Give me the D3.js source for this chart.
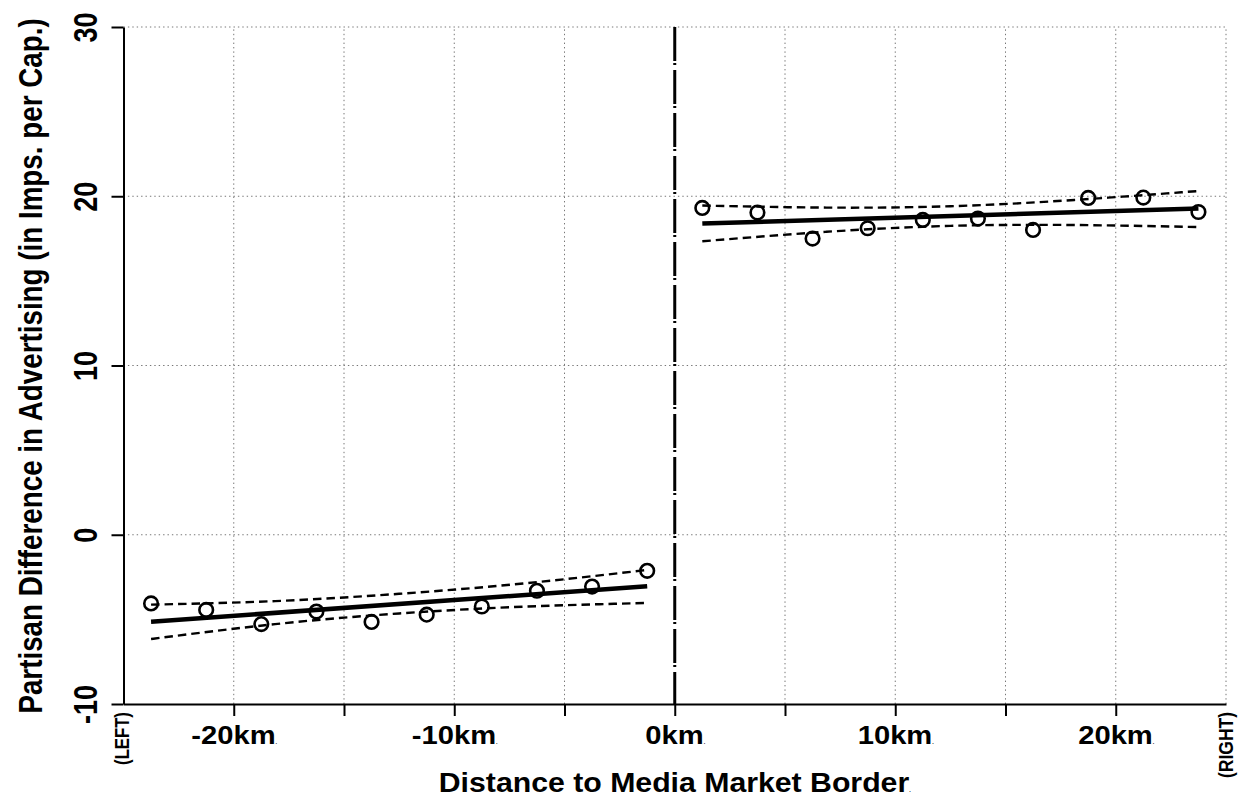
<!DOCTYPE html>
<html>
<head>
<meta charset="utf-8">
<script src="https://cdn.jsdelivr.net/npm/d3@7"></script>
<style>
  body { margin: 0; background: #fff; }
  text { font-family: "Liberation Sans", Arial, sans-serif; font-weight: bold; fill: #000; }
</style>
</head>
<body>
<div id="chart"></div>
<script>
// bin centres (km from border) and bin means
const leftX  = [-23.75, -21.25, -18.75, -16.25, -13.75, -11.25, -8.75, -6.25, -3.75, -1.25];
const leftY  = [-4.06, -4.44, -5.28, -4.54, -5.15, -4.72, -4.24, -3.31, -3.06, -2.13];
const rightX = [1.25, 3.75, 6.25, 8.75, 11.25, 13.75, 16.25, 18.75, 21.25, 23.75];
const rightY = [19.31, 19.04, 17.50, 18.11, 18.60, 18.68, 18.01, 19.90, 19.92, 19.07];

// linear fits (end points) and confidence bands
const fitLeftX  = [-23.75, -1.25];
const fitLeftY  = [-5.14, -3.04];
const fitRightX = [1.25, 23.75];
const fitRightY = [18.39, 19.28];

const ciLeftX   = [-23.75, -18.125, -12.5, -6.875, -1.25];
const ciLeftHi  = [-4.13, -3.92, -3.49, -2.88, -2.08];
const ciLeftLo  = [-6.16, -5.28, -4.65, -4.25, -4.03];
const ciRightX  = [1.25, 6.875, 12.5, 18.125, 23.75];
const ciRightHi = [19.45, 19.33, 19.41, 19.78, 20.31];
const ciRightLo = [17.34, 17.90, 18.25, 18.30, 18.18];

const xTicks = [-20, -15, -10, -5, 0, 5, 10, 15, 20];
const xGrid  = [-20, -15, -10, -5, 5, 10, 15, 20, 25];
const yTicks = [-10, 0, 10, 20, 30];
const yGrid  = [0, 10, 20, 30];

const W = 1238, H = 797;
const margin = {top: 27, left: 123.5, right: 12, bottom: 93};
const sx = 1.1;   // horizontal text stretch
const sr = 1.2;   // stretch for rotated text

const svg = d3.select("#chart").append("svg")
  .attr("width", W).attr("height", H);

const x = d3.scaleLinear().domain([-25, 25]).range([margin.left, W - margin.right]);
const y = d3.scaleLinear().domain([-10, 30]).range([H - margin.bottom, margin.top]);

// grid
svg.append("g").selectAll("line").data(yGrid).join("line")
  .attr("x1", x(-25)).attr("x2", x(25))
  .attr("y1", d => y(d)).attr("y2", d => y(d))
  .attr("stroke", "#777").attr("stroke-width", 1).attr("stroke-dasharray", "1.4,3");
svg.append("g").selectAll("line").data(xGrid).join("line")
  .attr("x1", d => x(d)).attr("x2", d => x(d))
  .attr("y1", y(-10)).attr("y2", y(30))
  .attr("stroke", "#777").attr("stroke-width", 1).attr("stroke-dasharray", "1.4,3");

// border line
svg.append("line")
  .attr("x1", x(0)).attr("x2", x(0))
  .attr("y1", y(30)).attr("y2", y(-10))
  .attr("stroke", "#000").attr("stroke-width", 3)
  .attr("stroke-dasharray", "34,2,2,5");

// x axis
const xAxis = svg.append("g")
  .attr("transform", `translate(0,${y(-10)})`)
  .call(d3.axisBottom(x).tickValues(xTicks).tickSize(12).tickSizeOuter(0)
    .tickFormat(d => d % 10 === 0 ? d + "km" : ""));
xAxis.select(".domain").attr("stroke-width", 2);
xAxis.selectAll(".tick line").attr("stroke-width", 2);
xAxis.selectAll(".tick text")
  .attr("y", null).attr("dy", null)
  .attr("transform", `translate(0,40) scale(${sx},1)`)
  .style("font-size", "26.5px")
  .each(function() {
    if (this.textContent) d3.select(this).append("tspan").style("font-size", "5px").text(".");
  });

// y axis
const yAxis = svg.append("g")
  .attr("transform", `translate(${x(-25)},0)`)
  .call(d3.axisLeft(y).tickValues(yTicks).tickSize(12).tickSizeOuter(0)
    .tickFormat(d => String(d)));
yAxis.select(".domain").attr("stroke-width", 2);
yAxis.selectAll(".tick line").attr("stroke-width", 2);
yAxis.selectAll(".tick text")
  .attr("x", null).attr("dy", null)
  .attr("text-anchor", "middle")
  .attr("transform", `translate(-26.5,0) scale(${sr},1) rotate(-90)`)
  .style("font-size", "27px");

// confidence bands
const band = d3.line().x(d => x(d[0])).y(d => y(d[1])).curve(d3.curveNatural);
[[ciLeftX, ciLeftHi], [ciLeftX, ciLeftLo], [ciRightX, ciRightHi], [ciRightX, ciRightLo]]
  .forEach(([xs, ys]) => {
    svg.append("path")
      .attr("d", band(xs.map((v, i) => [v, ys[i]])))
      .attr("fill", "none").attr("stroke", "#000")
      .attr("stroke-width", 2.4).attr("stroke-dasharray", "8.5,5");
  });

// fitted lines
[[fitLeftX, fitLeftY], [fitRightX, fitRightY]].forEach(([xs, ys]) => {
  svg.append("line")
    .attr("x1", x(xs[0])).attr("y1", y(ys[0]))
    .attr("x2", x(xs[1])).attr("y2", y(ys[1]))
    .attr("stroke", "#000").attr("stroke-width", 4.5);
});

// bin means
const pts = leftX.map((v, i) => [v, leftY[i]]).concat(rightX.map((v, i) => [v, rightY[i]]));
svg.append("g").selectAll("circle").data(pts).join("circle")
  .attr("cx", d => x(d[0])).attr("cy", d => y(d[1]))
  .attr("r", 6.8)
  .attr("fill", "none").attr("stroke", "#000").attr("stroke-width", 2.6);

// labels
function label(txt, px, py, size, rot, k) {
  return svg.append("text")
    .attr("transform", `translate(${px},${py}) scale(${k},1) rotate(${rot})`)
    .attr("text-anchor", "middle")
    .style("font-size", size + "px")
    .text(txt);
}
const xt = label("Distance to Media Market Border", x(0), 792, 27.5, 0, sx);
xt.append("tspan").style("font-size", "5px").text(".");
label("Partisan Difference in Advertising (in Imps. per Cap.)", 42, 366, 27.8, -90, sr);
label("(LEFT)", 129, 738.5, 16.7, -90, sr);
label("(RIGHT)", 1233, 745, 17.5, -90, sr);
</script>
</body>
</html>
